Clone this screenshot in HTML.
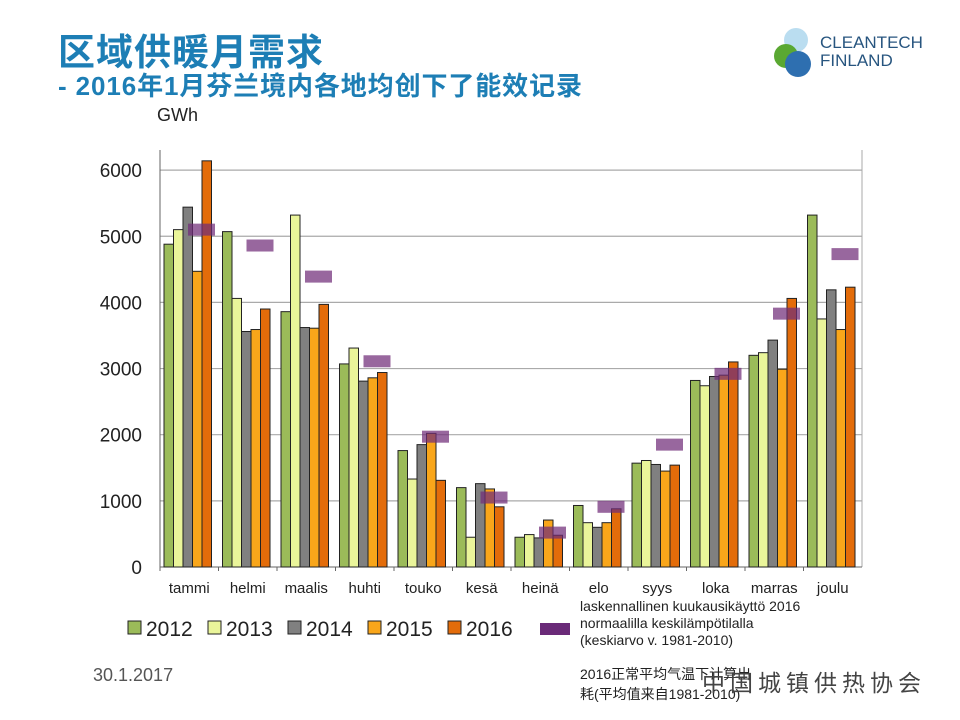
<!DOCTYPE html>
<html><head><meta charset="utf-8"><style>
body{margin:0;background:#fff;width:960px;height:720px;overflow:hidden;font-family:"Liberation Sans","Noto Sans CJK SC",sans-serif;}
.t{position:absolute;white-space:nowrap}
</style></head><body>
<div class="t" style="left:58px;top:22px;font-size:37px;font-weight:bold;color:#1d7eb5;letter-spacing:1px;">区域供暖月需求</div>
<div class="t" style="left:58px;top:66px;font-size:26px;font-weight:bold;color:#1d7eb5;letter-spacing:0.9px;">- 2016年1月芬兰境内各地均创下了能效记录</div>
<div style="position:absolute;left:770px;top:24px;width:200px;height:60px;">
<svg width="200" height="60"><circle cx="26" cy="16" r="12" fill="#a9d4ec" opacity="0.8"/><circle cx="16" cy="32" r="12" fill="#5aa832"/><circle cx="28" cy="40" r="13" fill="#2e6fb0"/></svg>
<div class="t" style="left:50px;top:10px;font-size:17px;color:#27557f;line-height:18px;">CLEANTECH<br>FINLAND</div></div>
<svg id="c" width="960" height="720" style="position:absolute;left:0;top:0"></svg>
<div class="t" style="left:93px;top:665px;font-size:18px;color:#555;">30.1.2017</div>
<div class="t" style="left:580px;top:664px;font-size:14px;color:#222;line-height:20px;">2016正常平均气温下计算出<br>耗(平均值来自1981-2010)</div>
<div class="t" style="left:702px;top:664px;font-size:23px;color:#444;letter-spacing:5px;">中国城镇供热协会</div>
<script>
const categories=["tammi","helmi","maalis","huhti","touko","kesä","heinä","elo","syys","loka","marras","joulu"];
const years=["2012","2013","2014","2015","2016"];
const s2012=[4880,5070,3860,3070,1760,1200,450,930,1570,2820,3200,5320];
const s2013=[5100,4060,5320,3310,1330,450,490,670,1610,2740,3240,3750];
const s2014=[5440,3560,3620,2810,1850,1260,440,600,1550,2880,3430,4190];
const s2015=[4470,3590,3610,2860,2020,1180,710,670,1450,2900,2990,3590];
const s2016=[6140,3900,3970,2940,1310,910,480,880,1540,3100,4060,4230];
const refVals=[5100,4860,4390,3110,1970,1050,520,910,1850,2920,3830,4730];
const yTicks=[0,1000,2000,3000,4000,5000,6000];
const colors=["#9bbb59","#eaf59a","#808080","#f9a61a","#e36c0a"];
const series=[s2012,s2013,s2014,s2015,s2016];
const svg=document.getElementById('c');const NS="http://www.w3.org/2000/svg";
const X0=160,X1=862,Y0=567,PER=66.15/1000,GW=(X1-X0)/12;
const y=v=>Y0-v*PER;
function el(t,a){const e=document.createElementNS(NS,t);for(const k in a)e.setAttribute(k,a[k]);svg.appendChild(e);return e;}
yTicks.forEach(v=>{
 if(v>0){const g=el('line',{x1:X0,x2:X1,y1:y(v),y2:y(v),stroke:'#aaa','stroke-width':1.2});
 
 }
 const t=el('text',{x:142,y:y(v)+7,'text-anchor':'end','font-size':19,fill:'#222'});t.textContent=v;
 
 
});
el('line',{x1:X0,x2:X0,y1:150,y2:Y0,stroke:'#666'});el('line',{x1:X1,x2:X1,y1:150,y2:Y0,stroke:'#aaa'});
el('line',{x1:X0,x2:X1,y1:Y0,y2:Y0,stroke:'#666'});
const gl=el('text',{x:157,y:121,'font-size':18,fill:'#222'});gl.textContent='GWh';


categories.forEach((c,i)=>{
 const gx=X0+i*GW;
 series.forEach((s,j)=>{
  const r=el('rect',{x:gx+4+j*9.5,y:y(s[i]),width:9.5,height:s[i]*PER,fill:colors[j],stroke:'#222','stroke-width':1});
  
  
 });
 const m=el('rect',{x:gx+28,y:y(refVals[i])-6,width:27,height:12,fill:'rgba(112,44,120,0.72)'});
 
 
 const t=el('text',{x:gx+GW/2,y:593,'text-anchor':'middle','font-size':15,fill:'#222'});t.textContent=c;
 
 
 el('line',{x1:gx,x2:gx,y1:Y0,y2:Y0+4,stroke:'#666'});
});
years.forEach((yr,j)=>{
 const lx=128+j*80;
 const r=el('rect',{x:lx,y:621,width:13,height:13,fill:colors[j],stroke:'#222'});
 
 
 const t=el('text',{x:lx+18,y:636,'font-size':21,fill:'#222'});t.textContent=yr;
 
 
});
const lr=el('rect',{x:540,y:623,width:30,height:12,fill:'#6a2a78'});


["laskennallinen kuukausikäyttö 2016","normaalilla keskilämpötilalla","(keskiarvo v. 1981-2010)"].forEach((s,k)=>{
 const t=el('text',{x:580,y:611+k*17,'font-size':14,fill:'#222'});t.textContent=s;
 
 
});
</script>
</body></html>
